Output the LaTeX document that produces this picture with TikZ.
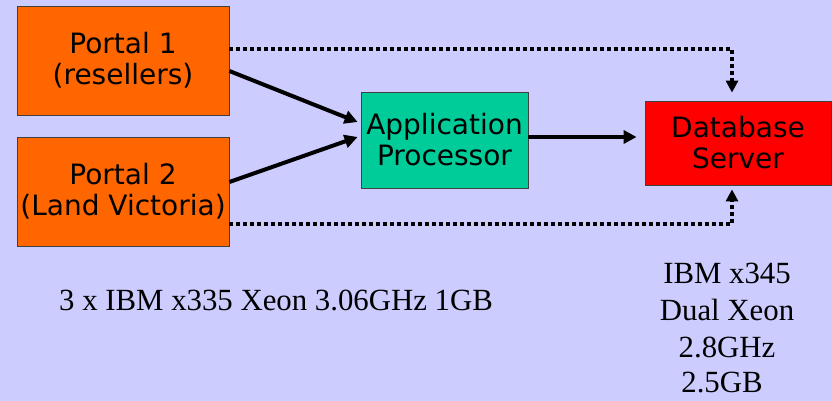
\documentclass[tikz,border=0pt]{standalone}
\usepackage{fontspec}
\setmainfont{Liberation Serif}
\newfontfamily\boxfont{DejaVu Sans}
\usetikzlibrary{arrows.meta}
\definecolor{bg}{HTML}{CCCCFF}
\definecolor{portalc}{HTML}{FF6600}
\definecolor{appc}{HTML}{00CC99}
\definecolor{dbc}{HTML}{FF0000}
\tikzset{
  box/.style={draw=black!75, line width=0.8pt, align=center, inner sep=0pt,
    font=\boxfont\fontsize{28}{31}\selectfont},
  flow/.style={line width=4pt, -{Triangle[length=13pt,width=13pt]}},
  dotflow/.style={line width=4pt, dash pattern=on 4pt off 3pt, -{Triangle[length=12pt,width=12pt]}},
  spec/.style={anchor=base, inner sep=0pt, font=\fontsize{30.8}{36}\selectfont}
}
\begin{document}
\begin{tikzpicture}[x=1pt,y=-1pt]
\fill[bg] (0,0) rectangle (832,401);
\useasboundingbox (0,0) rectangle (832,401);
\node[box, fill=portalc, minimum width=212pt, minimum height=109pt] (p1) at (123,60.5) {Portal 1\\(resellers)};
\node[box, fill=portalc, minimum width=212pt, minimum height=109pt] (p2) at (123,191.5) {Portal 2\\(Land Victoria)};
\node[box, fill=appc, minimum width=167pt, minimum height=96pt] (app) at (444.5,140) {Application\\Processor};
\node[box, fill=dbc, minimum width=186pt, minimum height=84pt] (db) at (738,143) {Database\\Server};
\draw[flow] ([yshift=-10.5pt]p1.east) -- ([xshift=-3pt,yshift=18pt]app.west);
\draw[flow] ([yshift=9.5pt]p2.east) -- ([xshift=-3pt,yshift=3pt]app.west);
\draw[flow] ([yshift=3pt]app.east) -- ([xshift=-8pt,yshift=6pt]db.west);
\draw[dotflow, shorten >=8pt] ([yshift=11.5pt]p1.east) -| ([xshift=-6pt]db.north);
\draw[dotflow, shorten >=4pt] ([yshift=-32.5pt]p2.east) -| ([xshift=-6pt]db.south);
\node[spec, anchor=base west] (t1) at (59,310) {3 x IBM x335 Xeon 3.06GHz 1GB};
\node[spec] (s1) at (727,283) {IBM x345};
\node[spec] (s2) at (727,320) {Dual Xeon};
\node[spec] (s3) at (727,357) {2.8GHz};
\node[spec] (s4) at (722,392) {2.5GB};
\end{tikzpicture}
\end{document}
